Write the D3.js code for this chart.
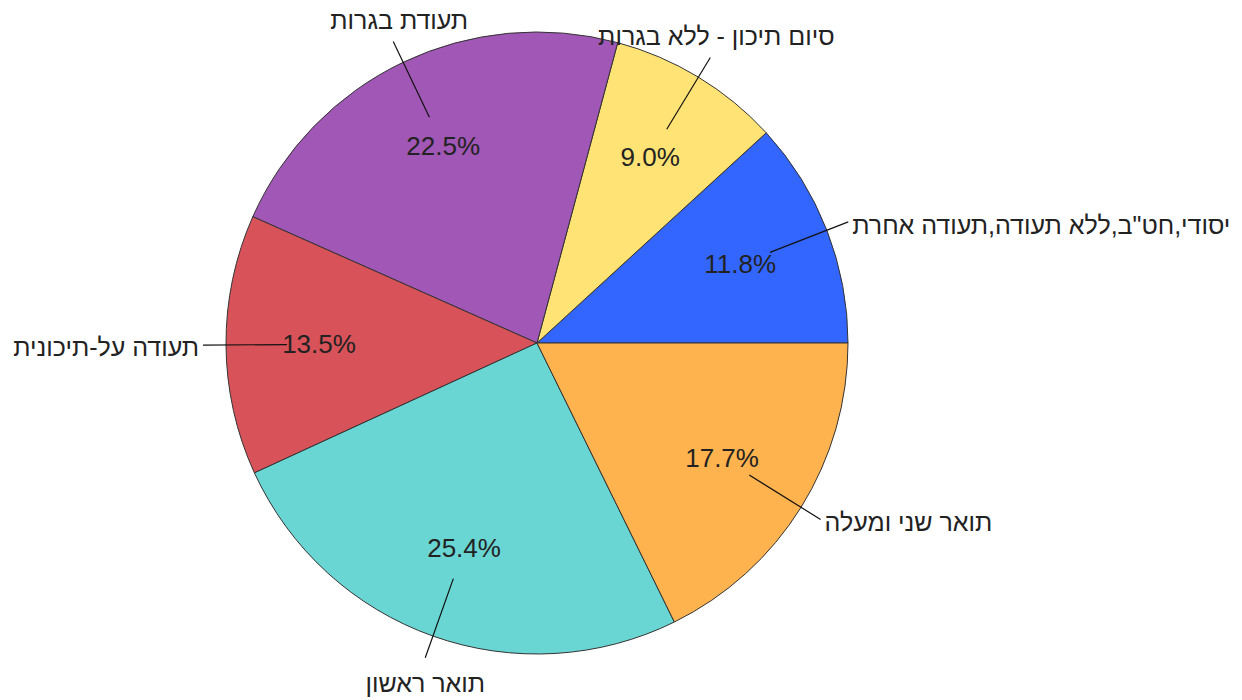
<!DOCTYPE html>
<html>
<head>
<meta charset="utf-8">
<script src="https://cdn.jsdelivr.net/npm/d3@7"></script>
<style>
  body { margin: 0; background: #fff; }
  svg text { font-family: "Liberation Sans", Arial, sans-serif; }
</style>
</head>
<body>
<div id="chart"></div>
<script>
const categories = [
  'יסודי,חט"ב,ללא תעודה,תעודה אחרת',
  'סיום תיכון - ללא בגרות',
  'תעודת בגרות',
  'תעודה על-תיכונית',
  'תואר ראשון',
  'תואר שני ומעלה'
];
const values = [11.8, 9.0, 22.5, 13.5, 25.4, 17.7];
const colors = ['#3366ff', '#ffe375', '#a057b5', '#d85259', '#69d6d3', '#ffb34e'];

const W = 1242, H = 700;
const CX = 537, CY = 343, R = 311;

const svg = d3.select('#chart').append('svg')
    .attr('width', W)
    .attr('height', H);

const g = svg.append('g')
    .attr('transform', `translate(${CX}, ${CY})`);

// counterclockwise from 3 o'clock
const pie = d3.pie()
    .sort(null)
    .value(d => d)
    .startAngle(Math.PI / 2)
    .endAngle(Math.PI / 2 - 2 * Math.PI);

const arcs = pie(values);

const arc = d3.arc().innerRadius(0).outerRadius(R);

g.selectAll('path.slice')
  .data(arcs)
  .enter().append('path')
    .attr('class', 'slice')
    .attr('d', arc)
    .attr('fill', (d, i) => colors[i])
    .attr('stroke', '#333')
    .attr('stroke-width', 1);

const polar = (a, r) => [Math.sin(a) * r, -Math.cos(a) * r];
const mid = d => (d.startAngle + d.endAngle) / 2;

// leader lines
g.selectAll('line.leader')
  .data(arcs)
  .enter().append('line')
    .attr('class', 'leader')
    .attr('x1', d => polar(mid(d), 250)[0])
    .attr('y1', d => polar(mid(d), 250)[1])
    .attr('x2', d => polar(mid(d), 334)[0])
    .attr('y2', d => polar(mid(d), 334)[1])
    .attr('stroke', '#111')
    .attr('stroke-width', 1.2);

// percentages
g.selectAll('text.pct')
  .data(arcs)
  .enter().append('text')
    .attr('class', 'pct')
    .attr('x', d => polar(mid(d), 218)[0])
    .attr('y', d => polar(mid(d), 218)[1])
    .attr('text-anchor', 'middle')
    .attr('dominant-baseline', 'central')
    .attr('font-size', 26)
    .attr('fill', '#222')
    .text(d => d.value.toFixed(1) + '%');

// category labels
g.selectAll('text.cat')
  .data(arcs)
  .enter().append('text')
    .attr('class', 'cat')
    .each(function(d, i) {
      const a = mid(d);
      const [x, y] = polar(a, 334);
      const s = Math.cos(a); // upwards component
      const t = d3.select(this);
      if (s > 0.7) {
        t.attr('x', x + 6).attr('y', y - 22).attr('text-anchor', 'middle');
      } else if (s < -0.7) {
        t.attr('x', x).attr('y', y + 25).attr('text-anchor', 'middle');
      } else if (x > 0) {
        t.attr('x', x + 4).attr('y', y + 3).attr('text-anchor', 'start');
      } else {
        t.attr('x', x - 4).attr('y', y + 2).attr('text-anchor', 'end');
      }
    })
    .attr('dominant-baseline', 'central')
    .attr('font-size', 25)
    .attr('fill', '#222')
    .text((d, i) => categories[i]);
</script>
</body>
</html>
